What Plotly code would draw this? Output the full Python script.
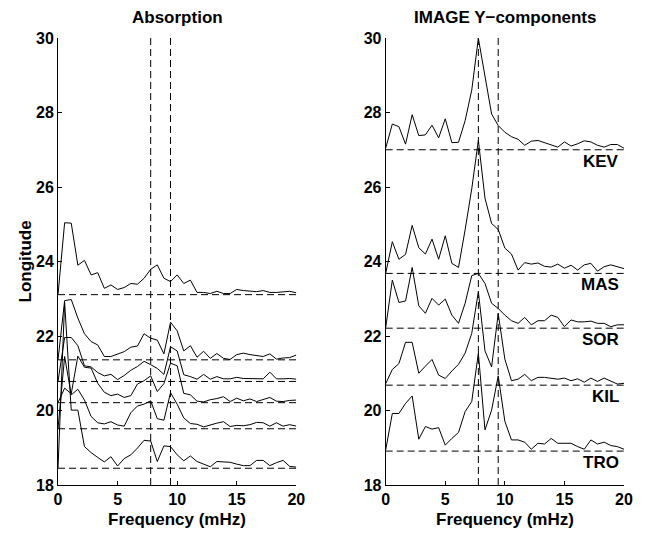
import plotly.graph_objects as go

freq = [0, 0.556, 1.111, 1.667, 2.222, 2.778, 3.333, 3.889, 4.444, 5.0, 5.556, 6.111,
        6.667, 7.222, 7.778, 8.333, 8.889, 9.444, 10.0, 10.556, 11.111, 11.667, 12.222,
        12.778, 13.333, 13.889, 14.444, 15.0, 15.556, 16.111, 16.667, 17.222, 17.778,
        18.333, 18.889, 19.444, 20.0]

marker_freqs = [7.778, 9.444]

# Absorption panel
abs_baselines = [23.11, 21.36, 20.78, 20.21, 19.51, 18.45]
abs_A = [23.11, 25.04, 25.03, 23.90, 24.03, 23.64, 23.70, 23.28, 23.37, 23.25, 23.30, 23.41, 23.39,
         23.55, 23.79, 23.91, 23.55, 23.46, 23.64, 23.41, 23.50, 23.17, 23.17, 23.14, 23.20, 23.14,
         23.14, 23.25, 23.22, 23.20, 23.19, 23.22, 23.17, 23.17, 23.19, 23.20, 23.16]
abs_B = [21.36, 22.95, 22.98, 22.48, 22.06, 21.85, 21.76, 21.45, 21.45, 21.52, 21.58, 21.70, 21.73,
         22.06, 21.94, 21.89, 21.52, 22.37, 22.14, 21.60, 21.74, 21.43, 21.59, 21.40, 21.53, 21.40,
         21.37, 21.50, 21.54, 21.50, 21.47, 21.45, 21.52, 21.38, 21.41, 21.42, 21.49]
abs_C = [20.78, 21.96, 21.96, 21.74, 21.20, 21.17, 21.02, 20.93, 20.97, 20.83, 20.94, 21.08, 21.18,
         21.32, 21.23, 21.13, 20.97, 21.71, 21.60, 20.96, 20.91, 20.84, 20.97, 20.84, 20.91, 20.85,
         20.85, 20.89, 20.86, 20.85, 20.84, 20.85, 21.03, 20.85, 20.85, 20.86, 20.84]
abs_D = [20.21, 20.60, 20.45, 21.46, 21.16, 21.14, 20.73, 20.49, 20.40, 20.44, 20.35, 20.40, 20.71,
         20.80, 20.93, 20.51, 20.72, 21.27, 21.20, 20.46, 20.42, 20.25, 20.23, 20.29, 20.32, 20.37,
         20.24, 20.33, 20.26, 20.31, 20.24, 20.29, 20.35, 20.25, 20.24, 20.27, 20.28]
abs_E = [19.51, 21.45, 20.42, 20.57, 20.28, 19.84, 19.67, 19.64, 19.70, 19.61, 19.58, 19.94, 20.12,
         20.17, 20.26, 19.78, 19.74, 20.48, 20.17, 19.80, 19.65, 19.63, 19.56, 19.62, 19.66, 19.70,
         19.57, 19.60, 19.59, 19.62, 19.68, 19.67, 19.58, 19.67, 19.58, 19.62, 19.58]
abs_F = [18.45, 22.90, 20.01, 20.01, 19.03, 18.87, 18.74, 18.62, 18.76, 18.51, 18.71, 18.81, 18.99,
         19.20, 19.18, 18.63, 19.05, 19.03, 18.81, 18.65, 18.78, 18.63, 18.56, 18.49, 18.63, 18.63,
         18.61, 18.56, 18.52, 18.52, 18.66, 18.66, 18.52, 18.60, 18.66, 18.50, 18.48]

# IMAGE Y-components panel
stations = ["KEV", "MAS", "SOR", "KIL", "TRO"]
img_baselines = [27.0, 23.68, 22.21, 20.68, 18.91]
img_KEV = [27.04, 27.69, 27.62, 27.15, 27.94, 27.38, 27.40, 27.66, 27.32, 27.83, 27.19, 27.20, 27.78,
           28.60, 29.99, 28.96, 27.96, 27.65, 27.47, 27.35, 27.28, 27.12, 27.23, 27.25, 27.19, 27.14,
           27.07, 27.21, 27.10, 27.16, 27.24, 27.21, 27.12, 27.07, 27.14, 27.14, 27.04]
img_MAS = [23.68, 24.53, 24.06, 24.19, 24.97, 24.37, 24.20, 24.60, 24.06, 24.69, 23.95, 23.84, 24.85,
           25.95, 27.25, 25.70, 25.02, 24.86, 24.36, 24.20, 23.77, 23.97, 23.93, 23.96, 23.87, 23.85,
           23.93, 23.82, 23.90, 23.77, 23.91, 23.95, 23.74, 23.86, 23.91, 23.86, 23.81]
img_SOR = [22.22, 23.50, 22.90, 22.94, 23.84, 22.81, 22.61, 23.01, 22.83, 22.99, 22.56, 22.34, 22.88,
           23.62, 23.68, 23.41, 22.88, 22.74, 22.56, 22.41, 22.34, 22.50, 22.30, 22.41, 22.41, 22.56,
           22.50, 22.25, 22.43, 22.38, 22.38, 22.40, 22.34, 22.34, 22.25, 22.30, 22.30]
img_KIL = [20.72, 21.10, 21.26, 21.83, 21.83, 21.00, 21.19, 21.37, 20.95, 20.86, 21.06, 21.24, 21.54,
           22.07, 23.19, 21.60, 21.17, 22.60, 21.38, 20.80, 20.84, 20.97, 20.80, 20.89, 20.89, 20.87,
           20.84, 20.87, 20.80, 20.85, 20.76, 20.87, 20.78, 20.87, 20.80, 20.71, 20.73]
img_TRO = [18.94, 19.92, 19.92, 20.19, 20.39, 19.23, 19.57, 19.50, 19.54, 19.07, 19.25, 19.41, 19.97,
           20.24, 21.54, 19.48, 20.01, 20.93, 19.71, 19.21, 19.21, 19.15, 18.96, 19.12, 19.10, 19.25,
           19.12, 19.12, 19.12, 19.03, 18.96, 19.21, 19.10, 19.15, 19.06, 19.03, 18.96]

x_ticks = [0, 5, 10, 15, 20]
y_ticks = [18, 20, 22, 24, 26, 28, 30]
x_range = [0, 20]
y_range = [18, 30]

FONT = "Liberation Sans, Arial, Helvetica, sans-serif"
DASH = "7px,4px"

fig = go.Figure()

def add_panel(xa, ya, series, baselines):
    for b in baselines:
        fig.add_trace(go.Scatter(x=[x_range[0], x_range[1]], y=[b, b], mode="lines",
                                 line=dict(color="black", width=1, dash=DASH),
                                 xaxis=xa, yaxis=ya, hoverinfo="skip", showlegend=False))
    for f in marker_freqs:
        fig.add_trace(go.Scatter(x=[f, f], y=[y_range[0], y_range[1]], mode="lines",
                                 line=dict(color="black", width=1, dash=DASH),
                                 xaxis=xa, yaxis=ya, hoverinfo="skip", showlegend=False))
    for s in series:
        fig.add_trace(go.Scatter(x=freq, y=s, mode="lines",
                                 line=dict(color="black", width=1),
                                 xaxis=xa, yaxis=ya, showlegend=False))

add_panel("x", "y", [abs_A, abs_B, abs_C, abs_D, abs_E, abs_F], abs_baselines)
add_panel("x2", "y2", [img_KEV, img_MAS, img_SOR, img_KIL, img_TRO], img_baselines)

tick_font = dict(family=FONT, size=16, color="black", weight="bold")
axis_common = dict(range=x_range, tickvals=x_ticks, ticks="inside", ticklen=4, tickwidth=1,
                   tickcolor="black", showline=True, linecolor="black", linewidth=1,
                   showgrid=False, zeroline=False, tickfont=tick_font)
yaxis_common = dict(range=y_range, tickvals=y_ticks, ticks="inside", ticklen=4, tickwidth=1,
                    tickcolor="black", showline=True, linecolor="black", linewidth=1,
                    showgrid=False, zeroline=False, tickfont=tick_font)

# page body has an 8px margin: lay the figure out so the axes land where the reference has them
W, H = 637, 526
ml, mt = 50, 30
plot_right, plot_bottom = 620, 477
mr, mb = W - plot_right, H - plot_bottom
pw = plot_right - ml
left_end = (290 - ml) / pw
right_start = (380 - ml) / pw

fig.update_layout(
    width=W, height=H,
    margin=dict(l=ml, r=mr, t=mt, b=mb),
    paper_bgcolor="white", plot_bgcolor="white",
    xaxis=dict(domain=[0, left_end], anchor="y", **axis_common),
    yaxis=dict(domain=[0, 1], anchor="x", **yaxis_common),
    xaxis2=dict(domain=[right_start, 1], anchor="y2", **axis_common),
    yaxis2=dict(domain=[0, 1], anchor="x2", **yaxis_common),
)

title_font = dict(family=FONT, size=17, color="black", weight="bold")
label_font = dict(family=FONT, size=17, color="black", weight="bold")

annotations = [
    dict(text="Absorption", xref="x domain", yref="paper", x=0.5, y=1, yshift=21,
         showarrow=False, font=title_font, xanchor="center", yanchor="middle"),
    dict(text="IMAGE Y\u2212components", xref="x2 domain", yref="paper", x=0.5, y=1, yshift=21,
         showarrow=False, font=title_font, xanchor="center", yanchor="middle"),
    dict(text="Frequency (mHz)", xref="x domain", yref="paper", x=0.5, y=0, yshift=-34,
         showarrow=False, font=label_font, xanchor="center", yanchor="middle"),
    dict(text="Frequency (mHz)", xref="x2 domain", yref="paper", x=0.5, y=0, yshift=-34,
         showarrow=False, font=label_font, xanchor="center", yanchor="middle"),
    dict(text="Longitude", xref="paper", yref="paper", x=0, xshift=-33, y=0.5,
         showarrow=False, font=label_font, textangle=-90, xanchor="center", yanchor="middle"),
]
for name, b in zip(stations, img_baselines):
    annotations.append(dict(text=name, xref="x2", yref="y2", x=19.78, y=b - 0.31,
                            showarrow=False, font=label_font, xanchor="right", yanchor="middle"))
fig.update_layout(annotations=annotations)

fig.write_html("out.html")
